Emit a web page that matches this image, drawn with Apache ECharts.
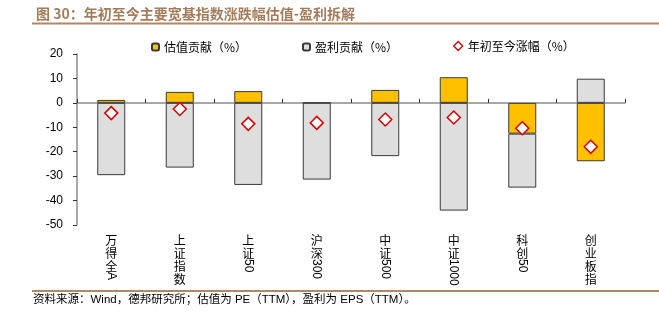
<!DOCTYPE html>
<html>
<head>
<meta charset="utf-8">
<script src="https://cdn.jsdelivr.net/npm/echarts@6/dist/echarts.min.js"></script>
<style>
html,body{margin:0;padding:0;background:#fff;}
#c{width:659px;height:327px;}
</style>
</head>
<body>
<div id="c"></div>
<script>
const titleText = '图 30：年初至今主要宽基指数涨跌幅估值-盈利拆解';
const sourceText = '资料来源：Wind，德邦研究所；估值为 PE（TTM），盈利为 EPS（TTM）。';
const categories = ['万得全A','上证指数','上证50','沪深300','中证500','中证1000','科创50','创业板指'];
const seriesNames = ['估值贡献（%）','盈利贡献（%）','年初至今涨幅（%）'];
const valuationContrib = [1.2, 4.5, 4.8, 0, 5.3, 10.5, -12.6, -23.9];
const earningsContrib = [-29.6, -26.5, -33.6, -31.4, -21.8, -44.1, -22.1, 9.9];
const ytdChange = [-4.2, -2.5, -8.6, -8.2, -6.8, -6.0, -10.4, -18.0];
const yTicks = {min: -50, max: 20, interval: 10};

const chart = echarts.init(document.getElementById('c'), null, {renderer: 'canvas'});
const cjkPart = s => s.replace(/[A-Za-z0-9]+$/, '');
const latinPart = s => { const m = s.match(/[A-Za-z0-9]+$/); return m ? m[0] : ''; };
const numFont = 'Liberation Sans, Arial, Noto Sans CJK SC';
const cjkFont = 'Noto Sans CJK SC';
const brown = '#A57C5B';

const legendBase = {
  top: 36, itemWidth: 7, itemHeight: 7,
  textStyle: {fontFamily: cjkFont, fontSize: 12, color: '#000'},
  selectedMode: false
};

chart.setOption({
  animation: false,
  backgroundColor: '#fff',
  title: {
    text: titleText, left: 31, top: 2,
    textStyle: {fontFamily: cjkFont, fontSize: 14, fontWeight: 'bold', color: brown}
  },
  legend: [
    Object.assign({}, legendBase, {left: 146, data: [seriesNames[0]]}),
    Object.assign({}, legendBase, {left: 297, data: [seriesNames[1]]}),
    Object.assign({}, legendBase, {left: 448, itemWidth: 9, itemHeight: 9, top: 35,
      data: [{name: seriesNames[2], itemStyle: {color: '#fff', borderColor: '#E00000', borderWidth: 1.3}}]})
  ],
  graphic: [
    {type: 'line', shape: {x1: 32, y1: 23.5, x2: 659, y2: 23.5}, style: {stroke: '#B08866', lineWidth: 2}},
    {type: 'line', shape: {x1: 32, y1: 291, x2: 659, y2: 291}, style: {stroke: '#B08866', lineWidth: 2}},
    {type: 'text', left: 33, top: 294, style: {text: sourceText, font: '11.5px "Liberation Sans", "Noto Sans CJK SC"', fill: '#000'}}
  ],
  grid: {left: 77, right: 34, top: 54, bottom: 102, containLabel: false},
  xAxis: [
    {
      type: 'category', data: categories, position: 'bottom',
      axisLine: {show: false, onZero: false}, axisTick: {show: false},
      axisLabel: {
        margin: 9, interval: 0, fontFamily: cjkFont, fontSize: 12, lineHeight: 13, color: '#000',
        formatter: v => cjkPart(v).split('').join('\n')
      }
    },
    {
      type: 'category', data: categories, position: 'bottom',
      axisLine: {show: false, onZero: false}, axisTick: {show: false},
      axisLabel: {
        margin: 34, interval: 0, rotate: -90, fontFamily: numFont, fontSize: 12, color: '#000',
        formatter: v => {
          const l = latinPart(v);
          if (!l) return '';
          const n = cjkPart(v).length;
          return n > 2 ? '{p' + n + '|' + l + '}' : l;
        },
        rich: {p3: {padding: [0, 0, 0, 13], fontFamily: numFont, fontSize: 12}}
      }
    },
    {
      type: 'category', data: categories,
      axisLine: {show: true, onZero: true, lineStyle: {color: '#8C8C8C', width: 1.5}},
      axisTick: {show: true, length: 4, lineStyle: {color: '#333', width: 1}},
      axisLabel: {show: false}
    }
  ],
  yAxis: {
    type: 'value', min: yTicks.min, max: yTicks.max, interval: yTicks.interval,
    axisLine: {show: true, lineStyle: {color: '#8C8C8C', width: 1.5}},
    axisTick: {show: true, length: 4, lineStyle: {color: '#333'}},
    splitLine: {show: false},
    axisLabel: {margin: 14, fontFamily: numFont, fontSize: 12, color: '#000'}
  },
  series: [
    {
      name: seriesNames[0], type: 'bar', stack: 'total', xAxisIndex: 0, barWidth: 28,
      data: valuationContrib,
      itemStyle: {color: '#FFC000', borderColor: '#3A3A3A', borderWidth: 1}
    },
    {
      name: seriesNames[1], type: 'bar', stack: 'total', xAxisIndex: 0, barWidth: 28,
      data: earningsContrib,
      itemStyle: {color: '#DEDEDE', borderColor: '#3A3A3A', borderWidth: 1}
    },
    {
      name: seriesNames[2], type: 'scatter', xAxisIndex: 0, symbol: 'diamond', symbolSize: 13, z: 5,
      data: ytdChange,
      itemStyle: {color: '#fff', borderColor: '#E00000', borderWidth: 1.5, opacity: 1}
    }
  ]
});
</script>
</body>
</html>
